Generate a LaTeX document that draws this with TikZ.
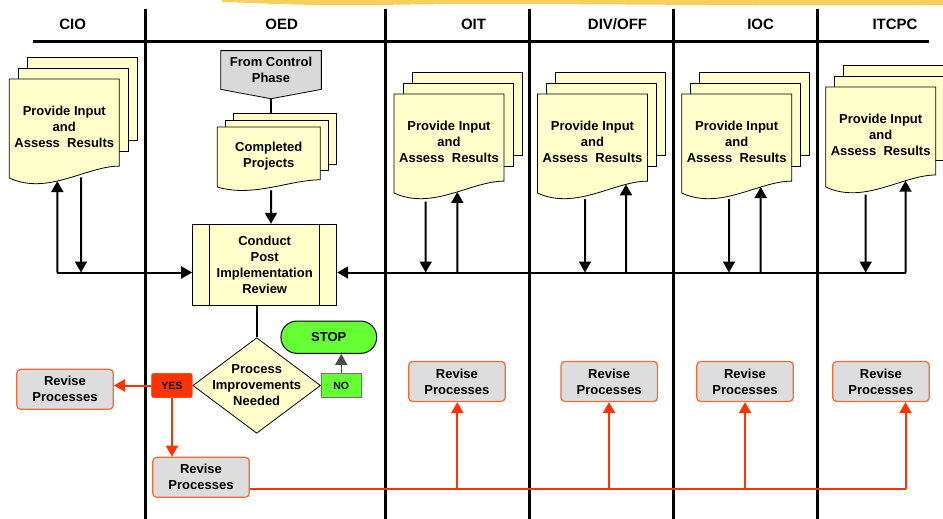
\documentclass[tikz,border=0pt]{standalone}
\usepackage{fontspec}
\setmainfont{Liberation Sans}
\usepackage{tikz}
\usetikzlibrary{arrows.meta,positioning,shapes.geometric,intersections,backgrounds}

\definecolor{docyellow}{HTML}{FFFFCC}
\definecolor{phasegray}{HTML}{D9D9D9}
\definecolor{revgray}{HTML}{DDDDDD}
\definecolor{revedge}{HTML}{FF6633}
\definecolor{yesred}{HTML}{FF3300}
\definecolor{nogreen}{HTML}{66FF33}
\definecolor{brushgold}{HTML}{F5C842}

\tikzset{
	lane/.style={line width=3pt},
	heading/.style={inner sep=0pt, font=\fontsize{15}{18}\selectfont\bfseries},
	docpage/.style={draw, line width=0.8pt, fill=docyellow},
	doctext/.style={align=center, inner sep=0pt, font=\fontsize{13}{16}\selectfont\bfseries},
	phase/.style={doctext, minimum width=100.3pt, minimum height=38.3pt},
	process/.style={doctext, draw, line width=1pt, fill=docyellow, minimum width=144pt, minimum height=80.7pt},
	decision/.style={diamond, draw, line width=0.8pt, fill=docyellow, minimum width=127.7pt, minimum height=95.6pt, inner sep=0pt},
	revise/.style={doctext, draw=revedge, line width=1.2pt, fill=revgray, rounded corners=4pt, minimum width=96.5pt, minimum height=40pt},
	yesbox/.style={fill=yesred, draw=yesred, rounded corners=2pt, minimum width=40.6pt, minimum height=24.3pt, inner sep=0pt, font=\fontsize{10.5}{12}\selectfont\bfseries},
	nobox/.style={fill=nogreen, draw=black!55, line width=0.6pt, minimum width=40pt, minimum height=23.7pt, inner sep=0pt, font=\fontsize{10.5}{12}\selectfont\bfseries},
	stopbox/.style={doctext, draw, line width=1pt, fill=nogreen, rounded corners=16pt, minimum width=95.7pt, minimum height=32.3pt},
	flow/.style={line width=2pt, -{Triangle[length=11pt,width=12pt]}},
	link/.style={line width=2pt},
	redflow/.style={flow, draw=yesred},
	redlink/.style={link, draw=yesred},
}

% stack of three pages: name, x, y (front top left), width, height, shift x, shift y, text
\newcommand{\DocStack}[8]{%
	\draw[docpage] (#2+2*#6, #3-2*#7) rectangle ++(#4, 0.84*#5);
	\draw[docpage] (#2+#6, #3-#7) rectangle ++(#4, 0.84*#5);
	\draw[docpage, name path=#1-edge] (#2,#3) -- ++(#4,0) -- ++(0,0.88*#5)
		.. controls (#2+0.7*#4, #3+0.88*#5) and (#2+0.35*#4, #3+1.18*#5) .. (#2, #3+#5) -- cycle;
	\node[doctext] (#1) at (#2+0.5*#4, #3+0.48*#5) {#8};
	\coordinate (#1-top) at (#2+2*#6, #3-2*#7);
	\coordinate (#1-mid) at (#2, #3+0.6*#5);
}
% arrow from a point of the bus up to the wavy edge of a page
\newcommand{\ToDoc}[2]{%
	\path[name path=probe] (#1) -- (#1 |- #2-mid);
	\draw[flow, name intersections={of=probe and #2-edge}] (#1) -- (intersection-1);
}
% arrow from the wavy edge of a page down to a point
\newcommand{\FromDoc}[2]{%
	\path[name path=probe] (#1) -- (#1 |- #2-mid);
	\draw[flow, name intersections={of=probe and #2-edge}] ([yshift=-3pt]intersection-1) -- (#1);
}

\begin{document}
\begin{tikzpicture}[x=1pt, y=-1pt]
	\useasboundingbox (0,0) rectangle (943,519);

	% Brush stroke of the slide
	\fill[brushgold, opacity=0.85] (222,0) -- (943,0) -- (943,5)
		.. controls (760,7) and (520,2) .. (380,5) .. controls (300,6) and (260,3) .. (222,2) -- cycle;

	% Lanes
	\draw[lane] (145,9) -- (145,519);
	\draw[lane] (385.5,9) -- (385.5,519);
	\draw[lane] (529.5,9) -- (529.5,519);
	\draw[lane] (673.5,9) -- (673.5,519);
	\draw[lane] (817,9) -- (817,519);
	\draw[line width=3.5pt] (33,41.7) -- (929,41.7);

	\node[heading] (h-cio) at (72.7,24) {CIO};
	\node[heading] (h-oed) at (281.7,24) {OED};
	\node[heading] (h-oit) at (473.5,24) {OIT};
	\node[heading] (h-div) at (617.5,24) {DIV/OFF};
	\node[heading] (h-ioc) at (760.6,24) {IOC};
	\node[heading] (h-itc) at (895,24) {ITCPC};

	% Define nodes
	\DocStack{cio}{9.3}{79}{110}{99}{9}{11}{Provide Input\\and\\Assess~~Results}
	\DocStack{oit}{394}{94}{110}{99}{9}{11}{Provide Input\\and\\Assess~~Results}
	\DocStack{div}{537.5}{94}{110}{99}{9}{11}{Provide Input\\and\\Assess~~Results}
	\DocStack{ioc}{681.7}{94}{110}{99}{9}{11}{Provide Input\\and\\Assess~~Results}
	\DocStack{itc}{825.7}{87}{110}{100}{9}{11}{Provide Input\\and\\Assess~~Results}

	\node[phase] (fcp) at (271,70) {From Control\\Phase};
	\begin{scope}[on background layer]
		\draw[line width=0.8pt, fill=phasegray] (fcp.north west) -- (fcp.north east) -- (fcp.south east)
			-- ([yshift=-9.4pt]fcp.south) -- (fcp.south west) -- cycle;
	\end{scope}
	\DocStack{cp}{217.3}{127}{103}{60}{8}{6.7}{Completed\\Projects}

	\node[process] (cpir) at (264.7,264.7) {Conduct\\Post\\Implementation\\Review};
	\draw[line width=1pt] ([xshift=17.5pt]cpir.north west) -- ([xshift=17.5pt]cpir.south west);
	\draw[line width=1pt] ([xshift=-17.5pt]cpir.north east) -- ([xshift=-17.5pt]cpir.south east);

	\node[decision] (pin) at (256.7,385.5) {};
	\node[doctext] (pin-txt) at (pin) {Process\\Improvements\\Needed};
	\node[yesbox, left=0pt of pin] (yes) {YES};
	\node[nobox, right=0pt of pin] (no) {NO};
	\node[stopbox] (stop) at (328.8,337.2) {STOP};

	\node[revise] (r-cio) at (65,389.3) {Revise\\Processes};
	\node[revise] (r-oed) at (201,477.3) {Revise\\Processes};
	\node[revise] (r-oit) at (456.9,381.5) {Revise\\Processes};
	\node[revise] (r-div) at (609.2,381.5) {Revise\\Processes};
	\node[revise] (r-ioc) at (745,381.5) {Revise\\Processes};
	\node[revise] (r-itc) at (880.9,381.5) {Revise\\Processes};

	% Points on the two buses
	\coordinate (cio-up) at (57.3,272.5);
	\coordinate (cio-dn) at (81,272.5);
	\coordinate (oit-dn) at (425.7,272.5);
	\coordinate (oit-up) at (457.3,272.5);
	\coordinate (div-dn) at (585,272.5);
	\coordinate (div-up) at (626,272.5);
	\coordinate (ioc-dn) at (729,272.5);
	\coordinate (ioc-up) at (760.7,272.5);
	\coordinate (itc-dn) at (865.7,272.5);
	\coordinate (itc-up) at (905.5,272.5);
	\coordinate (cp-in) at (fcp.south |- cpir.north);

	\coordinate (rb-oit) at (457.3,489);
	\coordinate (rb-div) at (609,489);
	\coordinate (rb-ioc) at (745,489);
	\coordinate (rb-itc) at (905.5,489);

	% Connect the nodes
	\draw[link] ([yshift=-9.4pt]fcp.south) -- (fcp.south |- cp-top);
	\FromDoc{cp-in}{cp}

	\draw[flow] (cio-up) -- (cio-up -| cpir.west);
	\draw[flow] (itc-up) -- (itc-up -| cpir.east);
	\ToDoc{cio-up}{cio}
	\FromDoc{cio-dn}{cio}
	\FromDoc{oit-dn}{oit}
	\ToDoc{oit-up}{oit}
	\FromDoc{div-dn}{div}
	\ToDoc{div-up}{div}
	\FromDoc{ioc-dn}{ioc}
	\ToDoc{ioc-up}{ioc}
	\FromDoc{itc-dn}{itc}
	\ToDoc{itc-up}{itc}

	\draw[link] (pin.north) -- (pin.north |- cpir.south);
	\draw[flow, draw=black!70, line width=1.5pt] (no.north) -- (no.north |- stop.south);

	\draw[redflow] (yes.west) -- (yes.west -| r-cio.east);
	\draw[redflow] (yes.south) -- (yes.south |- r-oed.north);
	\draw[redlink] (rb-oit -| r-oed.east) -- (rb-itc);
	\draw[redflow] (rb-oit) -- (rb-oit |- r-oit.south);
	\draw[redflow] (rb-div) -- (rb-div |- r-div.south);
	\draw[redflow] (rb-ioc) -- (rb-ioc |- r-ioc.south);
	\draw[redflow] (rb-itc) -- (rb-itc |- r-itc.south);
\end{tikzpicture}
\end{document}
